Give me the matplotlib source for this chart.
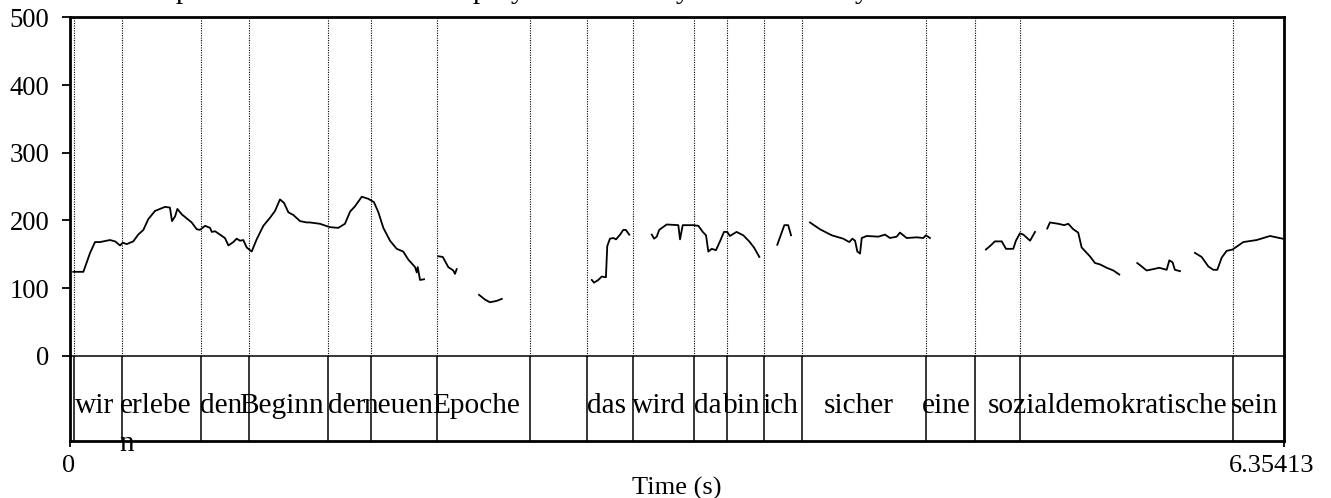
import numpy as np
import matplotlib
matplotlib.use("Agg")
import matplotlib.pyplot as plt
import matplotlib.transforms as mtransforms

plt.rcParams["font.family"] = ["Liberation Serif", "DejaVu Serif"]

# ---------------------------------------------------------------------------
# Data
# ---------------------------------------------------------------------------
T_END = 6.35413

# pitch track (s, Hz); NaN marks unvoiced gaps between voiced stretches
PITCH_T = [
    0.017, 0.070, 0.105, 0.131, 0.157, 0.209, 0.236, 0.262, 0.276, 0.297,
    0.331, 0.357, 0.384, 0.410, 0.445, 0.471, 0.497, 0.523, 0.534, 0.550,
    0.562, 0.585, 0.611, 0.637, 0.663, 0.680, 0.707, 0.733, 0.742, 0.759,
    0.785, 0.811, 0.829, 0.855, 0.872, 0.890, 0.907, 0.925, 0.951, 0.977,
    1.012, 1.047, 1.073, 1.099, 1.120, 1.143, 1.169, 1.204, 1.239, 1.256,
    1.308, 1.361, 1.404, 1.439, 1.466, 1.492, 1.527, 1.561, 1.591, 1.614,
    1.640, 1.675, 1.710, 1.744, 1.771, 1.806, 1.815, 1.820, 1.832, 1.853,
    np.nan,
    1.928, 1.951, 1.980, 2.006, 2.015, 2.024,
    np.nan,
    2.141, 2.172, 2.198, 2.233, 2.260,
    np.nan,
    2.731, 2.743, 2.765, 2.783, 2.805, 2.812, 2.826, 2.844, 2.858, 2.879,
    2.896, 2.909, 2.927,
    np.nan,
    3.045, 3.057, 3.071, 3.084, 3.123, 3.184, 3.193, 3.207, 3.262, 3.289,
    3.312, 3.329, 3.341, 3.359, 3.381, 3.402, 3.423, 3.440, 3.454, 3.489,
    3.524, 3.555, 3.580, 3.608,
    np.nan,
    3.702, 3.739, 3.759, 3.774,
    np.nan,
    3.873, 3.925, 3.987, 4.047, 4.079, 4.095, 4.109, 4.121, 4.135, 4.144,
    4.170, 4.231, 4.266, 4.292, 4.327, 4.344, 4.379, 4.432, 4.466, 4.480,
    4.501,
    np.nan,
    4.794, 4.815, 4.841, 4.877, 4.899, 4.937, 4.951, 4.972, 4.990, 5.025,
    5.051,
    np.nan,
    5.115, 5.129, 5.173, 5.203, 5.225, 5.251, 5.277, 5.295, 5.321, 5.338,
    5.365, 5.391, 5.426, 5.461, 5.492,
    np.nan,
    5.586, 5.609, 5.635, 5.670, 5.701, 5.740, 5.754, 5.771, 5.783, 5.810,
    np.nan,
    5.888, 5.923, 5.958, 5.984, 6.005, 6.028, 6.054, 6.085, 6.141, 6.211,
    6.281, 6.347,
]
PITCH_HZ = [
    124, 124, 152, 168, 168, 171, 169, 163, 167, 165,
    169, 179, 186, 202, 214, 217, 220, 219, 199, 206,
    217, 209, 203, 197, 187, 186, 192, 189, 183, 184,
    179, 174, 163, 168, 173, 170, 171, 160, 154, 172,
    192, 204, 214, 231, 226, 212, 208, 199, 197, 197,
    195, 190, 189, 195, 213, 221, 235, 232, 227, 212,
    189, 170, 158, 154, 142, 131, 123, 131, 112, 113,
    np.nan,
    147, 146, 131, 126, 121, 128,
    np.nan,
    90, 83, 79, 81, 84,
    np.nan,
    112, 108, 112, 117, 116, 162, 173, 174, 172, 179,
    186, 186, 179,
    np.nan,
    179, 173, 176, 186, 194, 193, 172, 193, 193, 192,
    183, 178, 154, 158, 156, 169, 183, 183, 177, 183,
    178, 169, 160, 146,
    np.nan,
    164, 193, 193, 178,
    np.nan,
    197, 187, 178, 173, 168, 173, 170, 154, 151, 174,
    177, 176, 179, 174, 176, 182, 174, 175, 174, 178,
    174,
    np.nan,
    157, 162, 169, 169, 158, 158, 170, 181, 179, 170,
    183,
    np.nan,
    188, 197, 195, 193, 195, 187, 182, 160, 152, 147,
    137, 135, 130, 126, 120,
    np.nan,
    137, 132, 126, 128, 130, 127, 141, 138, 127, 125,
    np.nan,
    152, 146, 132, 127, 127, 145, 155, 157, 168, 171,
    177, 173,
]

# word tier
BOUNDARIES = [0.021, 0.272, 0.684, 0.935, 1.349, 1.575, 1.919, 2.406, 2.704,
              2.945, 3.266, 3.437, 3.631, 3.831, 4.480, 4.735, 4.972, 6.086]
WORDS = ["", "wir", "erlebe\nn", "den", "Beginn", "der", "neuen", "Epoche", "",
         "das", "wird", "da", "bin", "ich", "sicher", "eine", "",
         "sozialdemokratische", "sein"]

Y_TICKS = [0, 100, 200, 300, 400, 500]
X_TICKS = [0, T_END]
X_TICK_LABELS = ["0", "6.35413"]

# bits of a cut-off tier above the picture (only descenders survive)
TOP_GLYPH_T = [0.591, 2.146, 2.345, 3.208, 4.145]
TOP_GLYPHS = ["p", "p", "y", "y", "y"]


def shift_left(fig, texts, frac):
    """Praat centres text on an over-estimated width; mimic the left drift."""
    fig.canvas.draw()
    renderer = fig.canvas.get_renderer()
    for t in texts:
        w = t.get_window_extent(renderer).width
        off = mtransforms.ScaledTranslation(-frac * w / fig.dpi, 0,
                                            fig.dpi_scale_trans)
        t.set_transform(t.get_transform() + off)


def main() -> None:
    W, H = 1331, 498
    fig = plt.figure(figsize=(W / 100, H / 100), dpi=100)

    left, right = 70 / W, 1284 / W
    y_top, y_mid, y_bot = 17.5, 355.7, 440.7
    ax = fig.add_axes([left, 1 - y_mid / H, right - left, (y_mid - y_top) / H])
    tier = fig.add_axes([left, 1 - y_bot / H, right - left, (y_bot - y_mid) / H],
                        sharex=ax)
    tier.patch.set_visible(False)

    # pitch panel
    ax.plot(PITCH_T, PITCH_HZ, color="black", lw=1.3, solid_joinstyle="round")
    for b in BOUNDARIES:
        ax.axvline(b, color="black", lw=0.8, ls=(0, (1, 1.2)))
    ax.set_xlim(0, T_END)
    ax.set_ylim(0, 500)
    ax.set_yticks(Y_TICKS)
    ax.tick_params(axis="y", direction="out", length=6, width=1.3,
                   labelsize=19.2, pad=9)
    ax.tick_params(axis="x", bottom=False, labelbottom=False)
    for side in ("left", "top", "right"):
        ax.spines[side].set_linewidth(2)
    ax.spines["bottom"].set_linewidth(1.1)

    # word tier
    edges = [0.0] + BOUNDARIES + [T_END]
    for b in BOUNDARIES:
        tier.axvline(b, color="black", lw=1.1)
    labels = []
    for lo, hi, w in zip(edges[:-1], edges[1:], WORDS):
        if w:
            labels.append(tier.text((lo + hi) / 2, 0.56, w, ha="center",
                                    va="top", multialignment="left",
                                    linespacing=1.6, fontsize=21.2))
    tier.set_ylim(0, 1)
    tier.set_yticks([])
    tier.set_xticks(X_TICKS)
    tier.set_xticklabels(X_TICK_LABELS)
    tier.tick_params(axis="x", direction="out", length=4, width=1.3,
                     labelsize=19, pad=6)
    tier.spines["top"].set_visible(False)
    for side in ("left", "bottom", "right"):
        tier.spines[side].set_linewidth(2)
    tier.set_xlabel("Time (s)", fontsize=19, labelpad=0)

    # glyph tails of a tier that was cut off above
    trans = mtransforms.blended_transform_factory(ax.transData, fig.transFigure)
    for t, g in zip(TOP_GLYPH_T, TOP_GLYPHS):
        fig.text(t, 1 + 1.5 / H, g, transform=trans, ha="center",
                 va="baseline", fontsize=20.8)

    shift_left(fig, labels, 0.08)
    shift_left(fig, tier.get_xticklabels(), 0.14)

    fig.savefig("out.png", dpi=100)
    plt.close(fig)


if __name__ == "__main__":
    main()
